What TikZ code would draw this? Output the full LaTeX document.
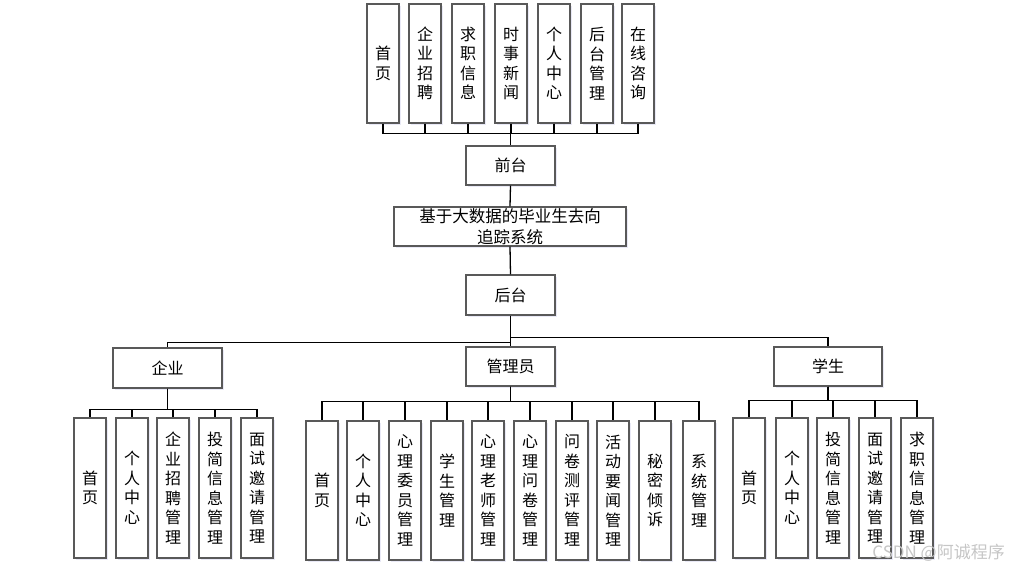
\documentclass[tikz,border=0pt]{standalone}
\usepackage{fontspec}
\setmainfont{Noto Sans CJK SC}
\usetikzlibrary{positioning,shadows}

\begin{document}
\begin{tikzpicture}[x=1pt,y=-1pt,
    vbox/.style={draw=black!65,line width=1.1pt,fill=white,minimum width=32pt,
        inner sep=0pt,align=center,font=\fontsize{16}{19.5}\selectfont,
        drop shadow={shadow xshift=1.5pt,shadow yshift=-1.5pt,opacity=0.12,fill=blue!40!gray}},
    hbox/.style={vbox,minimum height=39pt,font=\fontsize{16}{20}\selectfont},
    link/.style={line width=1.3pt,black}]
    \useasboundingbox (0,0) rectangle (1021,570);

    % front-end modules on top
    \foreach \x/\n/\t in {383/1/{首\\页},425/2/{企\\业\\招\\聘},468/3/{求\\职\\信\\息},
        511/4/{时\\事\\新\\闻},554/5/{个\\人\\中\\心},597/6/{后\\台\\管\\理},638/7/{在\\线\\咨\\询}}
    {
        \node[vbox,minimum height=119pt] (top\n) at (\x,63.5) {\t};
    }

    % main boxes in the middle
    \node[hbox,minimum width=89pt] (qt) at (510.5,165.5) {前台};
    \node[hbox,minimum width=232pt,font=\fontsize{16.5}{21}\selectfont] (sys) at (510,226.5)
        {基于大数据的毕业生去向\\追踪系统};
    \node[hbox,minimum width=89pt,minimum height=40pt] (ht) at (510.5,295) {后台};

    % three user roles
    \node[hbox,minimum width=109pt,minimum height=40pt] (qy) at (167.5,368) {企业};
    \node[hbox,minimum width=89pt] (gly) at (510.5,366.5) {管理员};
    \node[hbox,minimum width=108pt] (xs) at (828,366.5) {学生};

    % modules of each role
    \foreach \x/\n/\t in {90/1/{首\\页},132/2/{个\\人\\中\\心},173/3/{企\\业\\招\\聘\\管\\理},
        215/4/{投\\简\\信\\息\\管\\理},257/5/{面\\试\\邀\\请\\管\\理}}
    {
        \node[vbox,minimum height=140pt] (qy\n) at (\x,488) {\t};
    }
    \foreach \x/\n/\t in {322/1/{首\\页},363/2/{个\\人\\中\\心},405/3/{心\\理\\委\\员\\管\\理},
        447/4/{学\\生\\管\\理},488/5/{心\\理\\老\\师\\管\\理},530/6/{心\\理\\问\\卷\\管\\理},
        572/7/{问\\卷\\测\\评\\管\\理},613/8/{活\\动\\要\\闻\\管\\理},655/9/{秘\\密\\倾\\诉},
        699/10/{系\\统\\管\\理}}
    {
        \node[vbox,minimum height=139pt] (gly\n) at (\x,490.5) {\t};
    }
    \foreach \x/\n/\t in {749/1/{首\\页},792/2/{个\\人\\中\\心},833/3/{投\\简\\信\\息\\管\\理},
        875/4/{面\\试\\邀\\请\\管\\理},917/5/{求\\职\\信\\息\\管\\理}}
    {
        \node[vbox,minimum height=140pt] (xs\n) at (\x,488) {\t};
    }

    % connectors
    \foreach \n in {1,...,7}
    {
        \draw[link] (top\n.south) -- ++(0,10) -| (qt.north);
    }
    \draw[link] (qt.south) -- (sys.north);
    \draw[link] (sys.south) -- (ht.north);
    \draw[link] (ht.south) -- (gly.north);
    \draw[link] (ht.south) ++(0,27) -| (qy.north);
    \draw[link] (ht.south) ++(0,22) -| (xs.north);
    \foreach \n in {1,...,5}
    {
        \draw[link] (qy.south) -- ++(0,21) -| (qy\n.north);
        \draw[link] (xs.south) -- ++(0,14) -| (xs\n.north);
    }
    \foreach \n in {1,...,10}
    {
        \draw[link] (gly.south) -- ++(0,15) -| (gly\n.north);
    }

    % watermark
    \node[anchor=east,font=\fontsize{17}{17}\selectfont,text=gray!45,inner sep=0pt] (mark) at (1005,553)
        {CSDN @阿诚程序};
\end{tikzpicture}
\end{document}
